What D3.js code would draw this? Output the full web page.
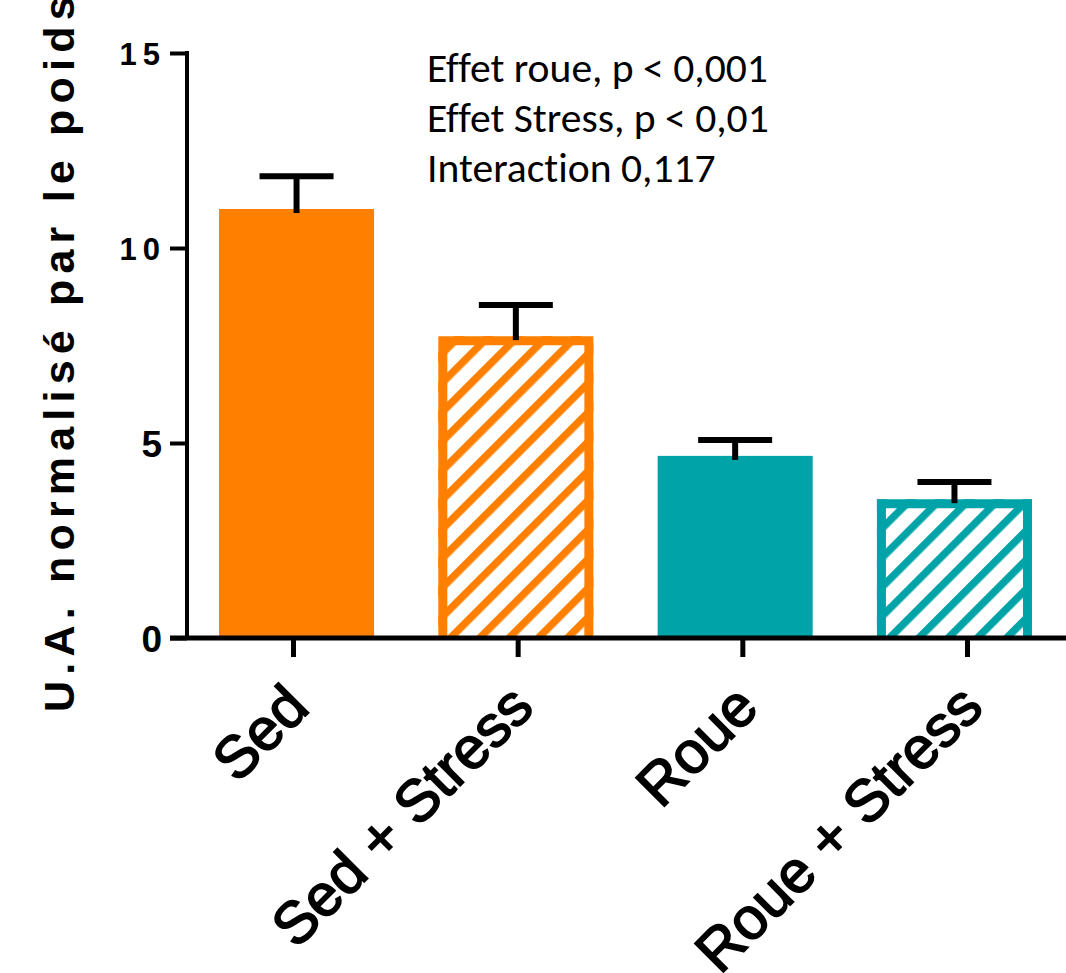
<!doctype html>
<html lang="fr">
<head>
    <meta charset="utf-8">
    <script src="https://d3js.org/d3.v7.min.js"></script>
    <style type="text/css">
        html, body {
            margin: 0;
            padding: 0;
            background: #fff;
        }

        svg {
            display: block;
        }
    </style>
</head>
<body>
<svg id="svg" width="1066" height="973"></svg>

<script>

    // data
    var groups = ["Sed", "Sed + Stress", "Roue", "Roue + Stress"];
    var exercise = ["Sed", "Sed", "Roue", "Roue"];
    var stressed = [false, true, false, true];
    var means = [11.0, 7.74, 4.67, 3.56];
    var sems = [0.84, 0.80, 0.41, 0.44];
    var yTicks = [0, 5, 10, 15];
    var yLabel = "U.A. normalisé par le poids";
    var statLines = ["Effet roue, p < 0,001", "Effet Stress, p < 0,01", "Interaction 0,117"];

    var svg = d3.select("#svg");
    var arial = "Arial, 'Liberation Sans', sans-serif";

    var y = d3.scaleLinear().domain([0, 15]).range([638, 53]);

    var x = d3.scaleBand()
        .domain(groups)
        .range([187, 1064])
        .paddingInner(0.293)
        .paddingOuter(0.146);

    // prism puts its ticks a bit off the bar centres
    var xTick = d3.scalePoint().domain(groups).range([293, 967]);

    var color = d3.scaleOrdinal()
        .domain(["Sed", "Roue"])
        .range(["#ff8000", "#00a4a8"]);

    var line_width = 9;

    // diagonal hatch for the stressed groups
    var defs = svg.append("defs");
    color.domain().forEach(function (k) {
        var p = defs.append("pattern")
            .attr("id", "hatch-" + k)
            .attr("patternUnits", "userSpaceOnUse")
            .attr("width", 20.7)
            .attr("height", 20.7)
            .attr("patternTransform", "rotate(45)");
        p.append("rect")
            .attr("width", 20.7)
            .attr("height", 20.7)
            .attr("fill", "#fff");
        p.append("rect")
            .attr("width", 7.5)
            .attr("height", 20.7)
            .attr("fill", color(k));
    });

    var data = groups.map(function (g, i) {
        return {name: g, ex: exercise[i], stress: stressed[i], mean: means[i], sem: sems[i]};
    });

    var bars = svg.append("g").selectAll("g")
        .data(data)
        .enter().append("g");

    bars.filter(function (d) { return !d.stress; })
        .append("rect")
        .attr("x", function (d) { return x(d.name); })
        .attr("y", function (d) { return y(d.mean); })
        .attr("width", x.bandwidth())
        .attr("height", function (d) { return y(0) - y(d.mean); })
        .attr("fill", function (d) { return color(d.ex); });

    var hb = bars.filter(function (d) { return d.stress; });
    hb.append("rect")
        .attr("x", function (d) { return x(d.name); })
        .attr("y", function (d) { return y(d.mean); })
        .attr("width", x.bandwidth())
        .attr("height", function (d) { return y(0) - y(d.mean); })
        .attr("fill", function (d) { return "url(#hatch-" + d.ex + ")"; });
    // open at the bottom, the axis sits there
    hb.append("path")
        .attr("d", function (d) {
            var h = line_width / 2;
            var x0 = x(d.name) + h, x1 = x(d.name) + x.bandwidth() - h;
            var top = y(d.mean) + h;
            return "M" + x0 + "," + y(0) + "L" + x0 + "," + top + "L" + x1 + "," + top + "L" + x1 + "," + y(0);
        })
        .attr("fill", "none")
        .attr("stroke", function (d) { return color(d.ex); })
        .attr("stroke-width", line_width);

    // SEM, upper half only
    var errs = svg.append("g").attr("stroke", "#000").attr("stroke-width", 6);
    data.forEach(function (d) {
        var cx = x(d.name) + x.bandwidth() / 2;
        errs.append("line")
            .attr("x1", cx).attr("x2", cx)
            .attr("y1", y(d.mean) + 4)
            .attr("y2", y(d.mean + d.sem));
        errs.append("line")
            .attr("x1", cx - 37).attr("x2", cx + 37)
            .attr("y1", y(d.mean + d.sem))
            .attr("y2", y(d.mean + d.sem));
    });

    // y axis
    var yAxis = svg.append("g")
        .attr("transform", "translate(187,0)")
        .call(d3.axisLeft(y).tickValues(yTicks).tickSize(17).tickSizeOuter(0));
    yAxis.select(".domain")
        .attr("stroke-width", 4)
        .attr("d", "M0," + (y(15) - 2) + "V" + y(0));
    yAxis.selectAll(".tick line").attr("stroke-width", 4);
    yAxis.selectAll(".tick text")
        .attr("font-family", arial)
        .attr("font-weight", "bold")
        .attr("fill", "#000")
        .attr("dy", "0.36em")
        .style("font-size", function (d) { return d >= 10 ? "31px" : "37px"; })
        .style("letter-spacing", function (d) { return d >= 10 ? "6px" : "0px"; })
        .attr("x", function (d) { return d >= 10 ? -21 : -25; });

    // x axis
    svg.append("line")
        .attr("x1", 170).attr("x2", 1066)
        .attr("y1", y(0)).attr("y2", y(0))
        .attr("stroke", "#000")
        .attr("stroke-width", 5);

    var xAxis = svg.append("g")
        .attr("transform", "translate(0," + y(0) + ")")
        .call(d3.axisBottom(xTick).tickSize(19).tickPadding(0).tickSizeOuter(0));
    xAxis.select(".domain").remove();
    xAxis.selectAll(".tick line").attr("stroke-width", 5);
    xAxis.selectAll(".tick text")
        .attr("font-family", arial)
        .attr("fill", "#000")
        .attr("stroke", "#000")
        .attr("stroke-width", 1.6)
        .style("font-size", "59px")
        .attr("text-anchor", "end")
        .attr("y", 0)
        .attr("dy", 0)
        .attr("transform", "translate(18,72) rotate(-45)");

    // y label
    svg.append("text")
        .attr("transform", "translate(74,712) rotate(-90)")
        .attr("font-family", arial)
        .attr("font-weight", "bold")
        .style("font-size", "43px")
        .style("letter-spacing", "6.2px")
        .attr("fill", "#000")
        .text(yLabel);

    // stats box
    svg.append("g").selectAll("text")
        .data(statLines)
        .enter().append("text")
        .attr("x", 427)
        .attr("y", function (d, i) { return 82 + i * 50; })
        .attr("font-family", "Carlito, Calibri, Lato, sans-serif")
        .style("font-size", "41.6px")
        .style("font-variant-ligatures", "none")
        .attr("fill", "#000")
        .text(function (d) { return d; });

</script>
</body>
</html>
